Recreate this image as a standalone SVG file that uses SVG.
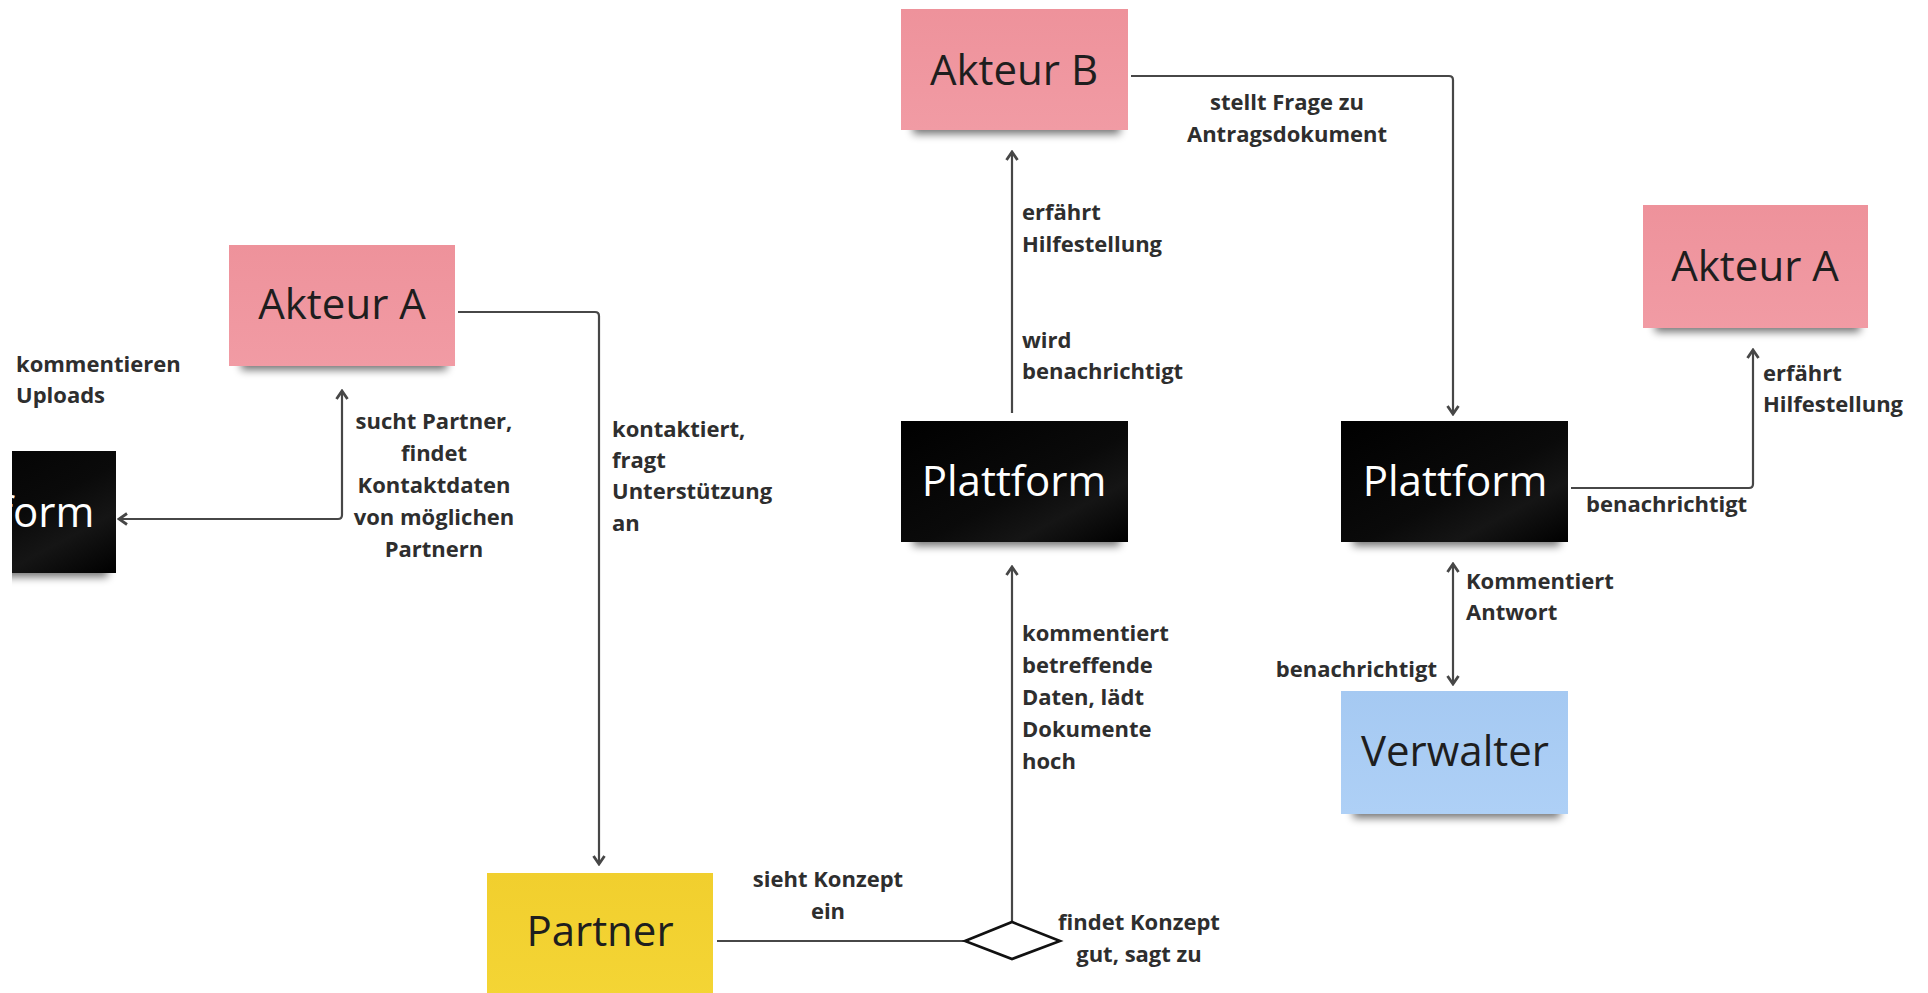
<svg xmlns="http://www.w3.org/2000/svg" width="1928" height="993" viewBox="0 0 1928 993">
  <style>
    .lbl { font-family: "Open Sans", "Noto Sans", "Liberation Sans", sans-serif; font-weight: 700; font-size: 22px; fill: #2e2e2e; }
    .mid { text-anchor: middle; }
    .end { text-anchor: end; }
    .note { font-family: "Open Sans", "Noto Sans", "Liberation Sans", sans-serif; font-size: 42px; text-anchor: middle; fill: #1e1e1e; }
    .note.inv { fill: #ffffff; }
    .conn { fill: none; stroke: #474747; stroke-width: 2.2; }
    .shadow { fill: #000; opacity: 0.55; filter: url(#soft); }
  </style>
  <defs>
    <filter id="soft" x="-20%" y="-100%" width="140%" height="300%">
      <feGaussianBlur stdDeviation="4"/>
    </filter>
    <linearGradient id="pink" x1="0" y1="0" x2="0" y2="1">
      <stop offset="0" stop-color="#ee929b"/>
      <stop offset="1" stop-color="#f19ba4"/>
    </linearGradient>
    <linearGradient id="yellow" x1="0" y1="0" x2="0" y2="1">
      <stop offset="0" stop-color="#f1cf2e"/>
      <stop offset="1" stop-color="#f4d535"/>
    </linearGradient>
    <linearGradient id="blue" x1="0" y1="0" x2="0" y2="1">
      <stop offset="0" stop-color="#a5c9f2"/>
      <stop offset="1" stop-color="#aed0f6"/>
    </linearGradient>
    <linearGradient id="black" x1="0" y1="0" x2="1" y2="1">
      <stop offset="0" stop-color="#000"/>
      <stop offset="0.55" stop-color="#0a0a0a"/>
      <stop offset="0.75" stop-color="#151515"/>
      <stop offset="1" stop-color="#000"/>
    </linearGradient>
    <marker id="arrow" viewBox="0 0 12 14" refX="10" refY="7" markerWidth="12" markerHeight="14" markerUnits="userSpaceOnUse" orient="auto-start-reverse">
      <path d="M2,1.5 L10,7 L2,12.5" fill="none" stroke="#474747" stroke-width="2.8"/>
    </marker>
    <clipPath id="leftEdge">
      <rect x="12" y="0" width="1916" height="993"/>
    </clipPath>
  </defs>

  <rect width="1928" height="993" fill="#ffffff"/>

  <!-- connectors -->
  <g id="connectors">
    <path class="conn" d="M458,312 H595 Q599,312 599,316 V864" marker-end="url(#arrow)"/>
    <path class="conn" d="M342,391 V515 Q342,519 338,519 H119" marker-start="url(#arrow)" marker-end="url(#arrow)"/>
    <path class="conn" d="M717,941 H965"/>
    <path class="conn" d="M1012,922 V567" marker-end="url(#arrow)"/>
    <path class="conn" d="M1012,413 V152" marker-end="url(#arrow)"/>
    <path class="conn" d="M1131,76 H1449 Q1453,76 1453,80 V414" marker-end="url(#arrow)"/>
    <path class="conn" d="M1571,488 H1749 Q1753,488 1753,484 V350" marker-end="url(#arrow)"/>
    <path class="conn" d="M1453,564 V684" marker-start="url(#arrow)" marker-end="url(#arrow)"/>
    <polygon id="decision" points="965,941 1012,922 1060,941 1012,959" fill="#ffffff" stroke="#111" stroke-width="2.6" stroke-linejoin="miter"/>
  </g>

  <!-- connector labels -->
  <g id="labels">
    <text class="lbl" x="16" y="372">kommentieren</text>
    <text class="lbl" x="16" y="403">Uploads</text>

    <text class="lbl mid" x="434" y="429">sucht Partner,</text>
    <text class="lbl mid" x="434" y="461">findet</text>
    <text class="lbl mid" x="434" y="493">Kontaktdaten</text>
    <text class="lbl mid" x="434" y="525">von möglichen</text>
    <text class="lbl mid" x="434" y="557">Partnern</text>

    <text class="lbl" x="612" y="437">kontaktiert,</text>
    <text class="lbl" x="612" y="468">fragt</text>
    <text class="lbl" x="612" y="499">Unterstützung</text>
    <text class="lbl" x="612" y="531">an</text>

    <text class="lbl mid" x="828" y="887">sieht Konzept</text>
    <text class="lbl mid" x="828" y="919">ein</text>

    <text class="lbl mid" x="1139" y="930">findet Konzept</text>
    <text class="lbl mid" x="1139" y="962">gut, sagt zu</text>

    <text class="lbl" x="1022" y="641">kommentiert</text>
    <text class="lbl" x="1022" y="673">betreffende</text>
    <text class="lbl" x="1022" y="705">Daten, lädt</text>
    <text class="lbl" x="1022" y="737">Dokumente</text>
    <text class="lbl" x="1022" y="769">hoch</text>

    <text class="lbl" x="1022" y="348">wird</text>
    <text class="lbl" x="1022" y="379">benachrichtigt</text>

    <text class="lbl" x="1022" y="220">erfährt</text>
    <text class="lbl" x="1022" y="252">Hilfestellung</text>

    <text class="lbl mid" x="1287" y="110">stellt Frage zu</text>
    <text class="lbl mid" x="1287" y="142">Antragsdokument</text>

    <text class="lbl" x="1763" y="381">erfährt</text>
    <text class="lbl" x="1763" y="412">Hilfestellung</text>

    <text class="lbl" x="1586" y="512">benachrichtigt</text>

    <text class="lbl" x="1466" y="589">Kommentiert</text>
    <text class="lbl" x="1466" y="620">Antwort</text>

    <text class="lbl end" x="1437" y="677">benachrichtigt</text>
  </g>

  <!-- sticky notes -->
  <g id="akteur-a-left">
    <rect class="shadow" x="241" y="354" width="206" height="16"/>
    <rect x="229" y="245" width="226" height="121" fill="url(#pink)"/>
    <text class="note" x="342" y="319">Akteur A</text>
  </g>

  <g id="plattform-left" clip-path="url(#leftEdge)">
    <rect class="shadow" x="-99" y="561" width="207" height="16"/>
    <rect x="-111" y="451" width="227" height="122" fill="url(#black)"/>
    <text class="note inv" x="2" y="527">Plattform</text>
  </g>

  <g id="akteur-b">
    <rect class="shadow" x="913" y="118" width="207" height="16"/>
    <rect x="901" y="9" width="227" height="121" fill="url(#pink)"/>
    <text class="note" x="1014" y="85">Akteur B</text>
  </g>

  <g id="plattform-mitte">
    <rect class="shadow" x="913" y="530" width="207" height="16"/>
    <rect x="901" y="421" width="227" height="121" fill="url(#black)"/>
    <text class="note inv" x="1014" y="496">Plattform</text>
  </g>

  <g id="plattform-rechts">
    <rect class="shadow" x="1353" y="530" width="207" height="16"/>
    <rect x="1341" y="421" width="227" height="121" fill="url(#black)"/>
    <text class="note inv" x="1455" y="496">Plattform</text>
  </g>

  <g id="akteur-a-right">
    <rect class="shadow" x="1655" y="316" width="205" height="16"/>
    <rect x="1643" y="205" width="225" height="123" fill="url(#pink)"/>
    <text class="note" x="1755" y="281">Akteur A</text>
  </g>

  <g id="verwalter">
    <rect class="shadow" x="1353" y="802" width="207" height="16"/>
    <rect x="1341" y="691" width="227" height="123" fill="url(#blue)"/>
    <text class="note" x="1455" y="766">Verwalter</text>
  </g>

  <g id="partner">
    <rect x="487" y="873" width="226" height="130" fill="url(#yellow)"/>
    <text class="note" x="600" y="946">Partner</text>
  </g>
</svg>
